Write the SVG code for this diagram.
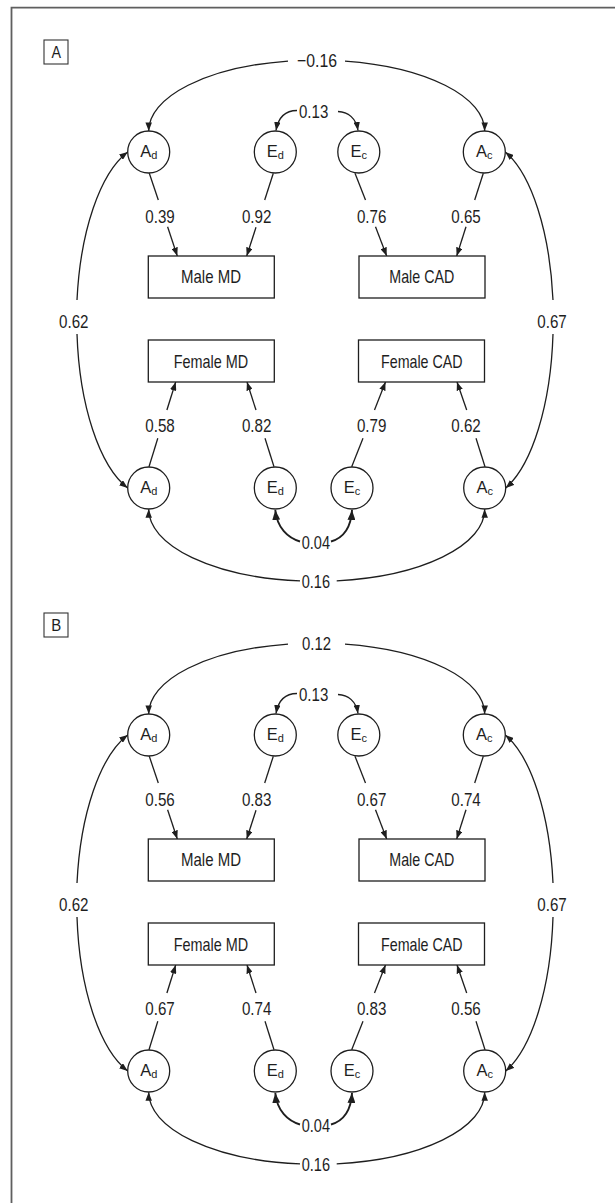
<svg xmlns="http://www.w3.org/2000/svg" width="615" height="1203" viewBox="0 0 615 1203">
<style>
.frame{fill:none;stroke:#5f5f5f;stroke-width:1.8}
.node{fill:#fff;stroke:#1e1e1e;stroke-width:1.3}
.tag{fill:#fff;stroke:#333;stroke-width:1.1}
.edge{fill:none;stroke:#1e1e1e;stroke-width:1.3}
.edge2{fill:none;stroke:#1e1e1e;stroke-width:1.9}
text{font-family:"Liberation Sans",Arial,Helvetica,sans-serif;fill:#1e1e1e}
.num,.lbl{font-size:18.5px}
.var{font-size:16.5px;text-anchor:middle}
.sub{font-size:11px}
.tagt{font-size:17px}
</style>
<defs>
<marker id="ah" viewBox="0 0 10 10" refX="10" refY="5" markerWidth="8.5" markerHeight="6.5" markerUnits="userSpaceOnUse" orient="auto" preserveAspectRatio="none"><path d="M0,0L10,5L0,10z" fill="#1e1e1e"/></marker>
<marker id="ahb" viewBox="0 0 10 10" refX="10" refY="5" markerWidth="10" markerHeight="8" markerUnits="userSpaceOnUse" orient="auto" preserveAspectRatio="none"><path d="M0,0L10,5L0,10z" fill="#1e1e1e"/></marker>
</defs>
<rect width="615" height="1203" fill="#fff"/>
<path class="frame" d="M11.5,1203V7.7H615"/>

<!-- ================= PANEL A ================= -->
<g id="panelA">
<g id="A-tag"><rect class="tag" x="44" y="40" width="24" height="24"/><text class="tagt" x="51.5" y="58.3" textLength="9.5" lengthAdjust="spacingAndGlyphs">A</text></g>

<g id="A-connectors">
<path class="edge" d="M288,61.04A168 71 0 0 0 148.7,131" marker-end="url(#ah)"/>
<path class="edge" d="M345,61.05A168 71 0 0 1 484.7,131" marker-end="url(#ah)"/>
<path class="edge" d="M297,110.5C287,110.5 278.5,116 276,130.5" marker-end="url(#ah)"/>
<path class="edge" d="M338,111.5C348,112 356,118 358,130.5" marker-end="url(#ah)"/>
<path class="edge" d="M77,300A73.5 176.5 0 0 1 127.7,152" marker-end="url(#ah)"/>
<path class="edge" d="M77,334A73.5 176.5 0 0 0 127.7,488" marker-end="url(#ah)"/>
<path class="edge" d="M553,300A70.5 177.5 0 0 0 505.3,152" marker-end="url(#ah)"/>
<path class="edge" d="M553,334A70.5 177.5 0 0 1 505.7,488" marker-end="url(#ah)"/>
<path class="edge" d="M149.3,173.3L158.3,200"/>
<path class="edge" d="M167.6,226.7L177.3,256" marker-end="url(#ah)"/>
<path class="edge" d="M273.3,173.3L264.7,200"/>
<path class="edge" d="M256,227.3L246.7,256" marker-end="url(#ah)"/>
<path class="edge" d="M355,173.3L365.5,200"/>
<path class="edge" d="M375.5,226.7L386.7,256" marker-end="url(#ah)"/>
<path class="edge" d="M483.3,173.3L474.7,200"/>
<path class="edge" d="M466,226.7L456.7,256" marker-end="url(#ah)"/>
<path class="edge" d="M149,466.7L157.8,438.3"/>
<path class="edge" d="M166.9,410L175.7,382" marker-end="url(#ah)"/>
<path class="edge" d="M274,466.7L265,438.3"/>
<path class="edge" d="M256,410L247,382" marker-end="url(#ah)"/>
<path class="edge" d="M351.7,466.7L363,438.3"/>
<path class="edge" d="M374.5,410L385.5,382" marker-end="url(#ah)"/>
<path class="edge" d="M485,466.7L476,438.3"/>
<path class="edge" d="M466.7,410L457,382" marker-end="url(#ah)"/>
<path class="edge2" d="M300,541.5C288,538 277,528 275.3,510" marker-end="url(#ahb)"/>
<path class="edge2" d="M331,541.5C343,538 351,528 352,510" marker-end="url(#ahb)"/>
<path class="edge" d="M300,580.9A168 72 0 0 1 148.7,509.3" marker-end="url(#ah)"/>
<path class="edge" d="M336.7,580.8A168 72 0 0 0 484.7,509.3" marker-end="url(#ah)"/>
<text class="num" x="297" y="66.7" textLength="40" lengthAdjust="spacingAndGlyphs">−0.16</text>
<text class="num" x="299" y="117.7" textLength="29.3" lengthAdjust="spacingAndGlyphs">0.13</text>
<text class="num" x="145.25" y="222.5" textLength="29.5" lengthAdjust="spacingAndGlyphs">0.39</text>
<text class="num" x="241.95" y="222.5" textLength="29.5" lengthAdjust="spacingAndGlyphs">0.92</text>
<text class="num" x="356.95" y="222.5" textLength="29.5" lengthAdjust="spacingAndGlyphs">0.76</text>
<text class="num" x="451.25" y="222.5" textLength="29.5" lengthAdjust="spacingAndGlyphs">0.65</text>
<text class="num" x="59" y="327.5" textLength="29.5" lengthAdjust="spacingAndGlyphs">0.62</text>
<text class="num" x="537.25" y="327.5" textLength="29.5" lengthAdjust="spacingAndGlyphs">0.67</text>
<text class="num" x="145.25" y="431.5" textLength="29.5" lengthAdjust="spacingAndGlyphs">0.58</text>
<text class="num" x="241.95" y="431.5" textLength="29.5" lengthAdjust="spacingAndGlyphs">0.82</text>
<text class="num" x="356.95" y="431.5" textLength="29.5" lengthAdjust="spacingAndGlyphs">0.79</text>
<text class="num" x="451.25" y="431.5" textLength="29.5" lengthAdjust="spacingAndGlyphs">0.62</text>
<text class="num" x="301.7" y="549" textLength="28.3" lengthAdjust="spacingAndGlyphs">0.04</text>
<text class="num" x="301.7" y="588.3" textLength="28.3" lengthAdjust="spacingAndGlyphs">0.16</text>
</g>

<g id="A-Ad-top"><circle class="node" cx="148.7" cy="152" r="21"/><text class="var" x="148.7" y="156.9">A<tspan class="sub" dy="1.8">d</tspan></text></g>
<g id="A-Ed-top"><circle class="node" cx="275.3" cy="152" r="21"/><text class="var" x="275.3" y="156.9">E<tspan class="sub" dy="1.8">d</tspan></text></g>
<g id="A-Ec-top"><circle class="node" cx="358.8" cy="152" r="21"/><text class="var" x="358.8" y="156.9">E<tspan class="sub" dy="1.8">c</tspan></text></g>
<g id="A-Ac-top"><circle class="node" cx="484.3" cy="152" r="21"/><text class="var" x="484.3" y="156.9">A<tspan class="sub" dy="1.8">c</tspan></text></g>
<g id="A-MaleMD"><rect class="node" x="148.3" y="256" width="126" height="42"/><text class="lbl" x="181" y="283.3" textLength="60" lengthAdjust="spacingAndGlyphs">Male MD</text></g>
<g id="A-MaleCAD"><rect class="node" x="359" y="256" width="126" height="42"/><text class="lbl" x="389.3" y="283.3" textLength="65" lengthAdjust="spacingAndGlyphs">Male CAD</text></g>
<g id="A-FemaleMD"><rect class="node" x="148.3" y="340" width="126" height="42"/><text class="lbl" x="173.7" y="367.5" textLength="74.5" lengthAdjust="spacingAndGlyphs">Female MD</text></g>
<g id="A-FemaleCAD"><rect class="node" x="358.5" y="340" width="126" height="42"/><text class="lbl" x="381" y="367.5" textLength="81.6" lengthAdjust="spacingAndGlyphs">Female CAD</text></g>
<g id="A-Ad-bot"><circle class="node" cx="148.7" cy="488" r="21"/><text class="var" x="148.7" y="492.9">A<tspan class="sub" dy="1.8">d</tspan></text></g>
<g id="A-Ed-bot"><circle class="node" cx="275.3" cy="488" r="21"/><text class="var" x="275.3" y="492.9">E<tspan class="sub" dy="1.8">d</tspan></text></g>
<g id="A-Ec-bot"><circle class="node" cx="352" cy="488" r="21"/><text class="var" x="352" y="492.9">E<tspan class="sub" dy="1.8">c</tspan></text></g>
<g id="A-Ac-bot"><circle class="node" cx="484.7" cy="488" r="21"/><text class="var" x="484.7" y="492.9">A<tspan class="sub" dy="1.8">c</tspan></text></g>
</g>

<!-- ================= PANEL B ================= -->
<g id="B-tag"><rect class="tag" x="44" y="613" width="24" height="24"/><text class="tagt" x="51.3" y="631.3" textLength="10" lengthAdjust="spacingAndGlyphs">B</text></g>
<g id="panelB" transform="translate(0,583)">
<g id="B-connectors">
<path class="edge" d="M288,61.04A168 71 0 0 0 148.7,131" marker-end="url(#ah)"/>
<path class="edge" d="M345,61.05A168 71 0 0 1 484.7,131" marker-end="url(#ah)"/>
<path class="edge" d="M297,110.5C287,110.5 278.5,116 276,130.5" marker-end="url(#ah)"/>
<path class="edge" d="M338,111.5C348,112 356,118 358,130.5" marker-end="url(#ah)"/>
<path class="edge" d="M77,300A73.5 176.5 0 0 1 127.7,152" marker-end="url(#ah)"/>
<path class="edge" d="M77,334A73.5 176.5 0 0 0 127.7,488" marker-end="url(#ah)"/>
<path class="edge" d="M553,300A70.5 177.5 0 0 0 505.3,152" marker-end="url(#ah)"/>
<path class="edge" d="M553,334A70.5 177.5 0 0 1 505.7,488" marker-end="url(#ah)"/>
<path class="edge" d="M149.3,173.3L158.3,200"/>
<path class="edge" d="M167.6,226.7L177.3,256" marker-end="url(#ah)"/>
<path class="edge" d="M273.3,173.3L264.7,200"/>
<path class="edge" d="M256,227.3L246.7,256" marker-end="url(#ah)"/>
<path class="edge" d="M355,173.3L365.5,200"/>
<path class="edge" d="M375.5,226.7L386.7,256" marker-end="url(#ah)"/>
<path class="edge" d="M483.3,173.3L474.7,200"/>
<path class="edge" d="M466,226.7L456.7,256" marker-end="url(#ah)"/>
<path class="edge" d="M149,466.7L157.8,438.3"/>
<path class="edge" d="M166.9,410L175.7,382" marker-end="url(#ah)"/>
<path class="edge" d="M274,466.7L265,438.3"/>
<path class="edge" d="M256,410L247,382" marker-end="url(#ah)"/>
<path class="edge" d="M351.7,466.7L363,438.3"/>
<path class="edge" d="M374.5,410L385.5,382" marker-end="url(#ah)"/>
<path class="edge" d="M485,466.7L476,438.3"/>
<path class="edge" d="M466.7,410L457,382" marker-end="url(#ah)"/>
<path class="edge2" d="M300,541.5C288,538 277,528 275.3,510" marker-end="url(#ahb)"/>
<path class="edge2" d="M331,541.5C343,538 351,528 352,510" marker-end="url(#ahb)"/>
<path class="edge" d="M300,580.9A168 72 0 0 1 148.7,509.3" marker-end="url(#ah)"/>
<path class="edge" d="M336.7,580.8A168 72 0 0 0 484.7,509.3" marker-end="url(#ah)"/>
<text class="num" x="302" y="66.7" textLength="29" lengthAdjust="spacingAndGlyphs">0.12</text>
<text class="num" x="299" y="117.7" textLength="29.3" lengthAdjust="spacingAndGlyphs">0.13</text>
<text class="num" x="145.25" y="222.5" textLength="29.5" lengthAdjust="spacingAndGlyphs">0.56</text>
<text class="num" x="241.95" y="222.5" textLength="29.5" lengthAdjust="spacingAndGlyphs">0.83</text>
<text class="num" x="356.95" y="222.5" textLength="29.5" lengthAdjust="spacingAndGlyphs">0.67</text>
<text class="num" x="451.25" y="222.5" textLength="29.5" lengthAdjust="spacingAndGlyphs">0.74</text>
<text class="num" x="59" y="327.5" textLength="29.5" lengthAdjust="spacingAndGlyphs">0.62</text>
<text class="num" x="537.25" y="327.5" textLength="29.5" lengthAdjust="spacingAndGlyphs">0.67</text>
<text class="num" x="145.25" y="431.5" textLength="29.5" lengthAdjust="spacingAndGlyphs">0.67</text>
<text class="num" x="241.95" y="431.5" textLength="29.5" lengthAdjust="spacingAndGlyphs">0.74</text>
<text class="num" x="356.95" y="431.5" textLength="29.5" lengthAdjust="spacingAndGlyphs">0.83</text>
<text class="num" x="451.25" y="431.5" textLength="29.5" lengthAdjust="spacingAndGlyphs">0.56</text>
<text class="num" x="301.7" y="549" textLength="28.3" lengthAdjust="spacingAndGlyphs">0.04</text>
<text class="num" x="301.7" y="588.3" textLength="28.3" lengthAdjust="spacingAndGlyphs">0.16</text>
</g>

<g id="B-Ad-top"><circle class="node" cx="148.7" cy="152" r="21"/><text class="var" x="148.7" y="156.9">A<tspan class="sub" dy="1.8">d</tspan></text></g>
<g id="B-Ed-top"><circle class="node" cx="275.3" cy="152" r="21"/><text class="var" x="275.3" y="156.9">E<tspan class="sub" dy="1.8">d</tspan></text></g>
<g id="B-Ec-top"><circle class="node" cx="358.8" cy="152" r="21"/><text class="var" x="358.8" y="156.9">E<tspan class="sub" dy="1.8">c</tspan></text></g>
<g id="B-Ac-top"><circle class="node" cx="484.3" cy="152" r="21"/><text class="var" x="484.3" y="156.9">A<tspan class="sub" dy="1.8">c</tspan></text></g>
<g id="B-MaleMD"><rect class="node" x="148.3" y="256" width="126" height="42"/><text class="lbl" x="181" y="283.3" textLength="60" lengthAdjust="spacingAndGlyphs">Male MD</text></g>
<g id="B-MaleCAD"><rect class="node" x="359" y="256" width="126" height="42"/><text class="lbl" x="389.3" y="283.3" textLength="65" lengthAdjust="spacingAndGlyphs">Male CAD</text></g>
<g id="B-FemaleMD"><rect class="node" x="148.3" y="340" width="126" height="42"/><text class="lbl" x="173.7" y="367.5" textLength="74.5" lengthAdjust="spacingAndGlyphs">Female MD</text></g>
<g id="B-FemaleCAD"><rect class="node" x="358.5" y="340" width="126" height="42"/><text class="lbl" x="381" y="367.5" textLength="81.6" lengthAdjust="spacingAndGlyphs">Female CAD</text></g>
<g id="B-Ad-bot"><circle class="node" cx="148.7" cy="488" r="21"/><text class="var" x="148.7" y="492.9">A<tspan class="sub" dy="1.8">d</tspan></text></g>
<g id="B-Ed-bot"><circle class="node" cx="275.3" cy="488" r="21"/><text class="var" x="275.3" y="492.9">E<tspan class="sub" dy="1.8">d</tspan></text></g>
<g id="B-Ec-bot"><circle class="node" cx="352" cy="488" r="21"/><text class="var" x="352" y="492.9">E<tspan class="sub" dy="1.8">c</tspan></text></g>
<g id="B-Ac-bot"><circle class="node" cx="484.7" cy="488" r="21"/><text class="var" x="484.7" y="492.9">A<tspan class="sub" dy="1.8">c</tspan></text></g>
</g>
</svg>
